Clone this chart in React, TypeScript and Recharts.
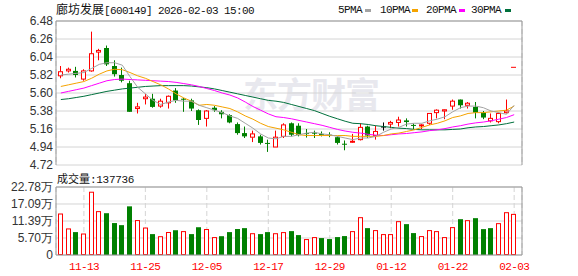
import { ComposedChart, Bar, Line, XAxis, YAxis, CartesianGrid, ReferenceLine } from 'recharts';

// trading days shown, 11-10 .. 02-03
const dates = [
  '11-10', '11-11', '11-12', '11-13', '11-14', '11-17', '11-18', '11-19', '11-20', '11-21',
  '11-24', '11-25', '11-26', '11-27', '11-28', '12-01', '12-02', '12-03', '12-04', '12-05',
  '12-08', '12-09', '12-10', '12-11', '12-12', '12-15', '12-16', '12-17', '12-18', '12-19',
  '12-22', '12-23', '12-24', '12-25', '12-26', '12-29', '12-30', '12-31', '01-05', '01-06',
  '01-07', '01-08', '01-09', '01-12', '01-13', '01-14', '01-15', '01-16', '01-19', '01-20',
  '01-21', '01-22', '01-23', '01-26', '01-27', '01-28', '01-29', '01-30', '02-02', '02-03',
];

const open = [
  5.81, 5.87, 5.87, 5.77, 5.87, 6.10, 6.15, 5.93, 5.82, 5.72,
  5.41, 5.53, 5.53, 5.44, 5.48, 5.63, 5.53, 5.51, 5.39, 5.29,
  5.42, 5.37, 5.33, 5.22, 5.11, 5.06, 5.07, 4.99, 4.94, 5.07,
  5.23, 5.20, 5.11, 5.115, 5.10, 5.09, 5.06, 4.98, 5.00, 5.03,
  5.19, 5.08, 5.19, 5.22, 5.24, 5.265, 5.21, 5.20, 5.23, 5.36,
  5.38, 5.44, 5.52, 5.45, 5.43, 5.36, 5.26, 5.25, 5.36, 5.92,
];
const high = [
  5.93, 5.91, 5.92, 5.89, 6.35, 6.14, 6.18, 6.00, 5.91, 5.75,
  5.48, 5.59, 5.59, 5.53, 5.57, 5.66, 5.54, 5.53, 5.40, 5.39,
  5.44, 5.39, 5.34, 5.24, 5.19, 5.14, 5.09, 5.03, 5.14, 5.23,
  5.24, 5.23, 5.16, 5.14, 5.13, 5.12, 5.07, 5.02, 5.10, 5.23,
  5.20, 5.20, 5.24, 5.26, 5.31, 5.29, 5.23, 5.22, 5.35, 5.40,
  5.40, 5.52, 5.52, 5.49, 5.49, 5.38, 5.35, 5.36, 5.52, 5.92,
];
const low = [
  5.78, 5.85, 5.79, 5.75, 5.86, 6.00, 5.93, 5.80, 5.73, 5.37,
  5.35, 5.46, 5.42, 5.42, 5.41, 5.48, 5.37, 5.38, 5.21, 5.19,
  5.37, 5.29, 5.23, 5.09, 5.05, 5.00, 4.97, 4.88, 4.94, 5.05,
  5.07, 5.07, 5.055, 5.05, 5.07, 5.06, 4.97, 4.90, 4.99, 5.02,
  5.05, 5.03, 5.14, 5.17, 5.19, 5.19, 5.16, 5.16, 5.21, 5.29,
  5.28, 5.395, 5.41, 5.41, 5.29, 5.28, 5.24, 5.23, 5.35, 5.92,
];
const close = [
  5.86, 5.89, 5.82, 5.87, 6.08, 6.12, 5.95, 5.83, 5.75, 5.37,
  5.43, 5.55, 5.43, 5.50, 5.56, 5.51, 5.52, 5.41, 5.27, 5.38,
  5.39, 5.34, 5.24, 5.11, 5.07, 5.10, 4.99, 4.98, 5.06, 5.21,
  5.09, 5.085, 5.10, 5.105, 5.09, 5.08, 4.99, 4.97, 5.01, 5.18,
  5.08, 5.13, 5.19, 5.24, 5.27, 5.245, 5.20, 5.21, 5.35, 5.39,
  5.395, 5.50, 5.45, 5.475, 5.36, 5.30, 5.29, 5.35, 5.38, 5.92,
];

const ma5 = [
  5.82, 5.83, 5.84, 5.85, 5.90, 5.95, 5.97, 5.97, 5.94, 5.80,
  5.67, 5.59, 5.51, 5.46, 5.49, 5.51, 5.50, 5.50, 5.45, 5.42,
  5.39, 5.36, 5.32, 5.29, 5.23, 5.17, 5.10, 5.05, 5.04, 5.07,
  5.07, 5.09, 5.11, 5.12, 5.10, 5.09, 5.07, 5.05, 5.03, 5.05,
  5.05, 5.07, 5.12, 5.16, 5.18, 5.22, 5.23, 5.23, 5.26, 5.28,
  5.31, 5.37, 5.42, 5.44, 5.44, 5.42, 5.38, 5.36, 5.34, 5.45,
];
const ma10 = [
  5.68, 5.70, 5.72, 5.74, 5.78, 5.83, 5.87, 5.89, 5.885, 5.85,
  5.81, 5.78, 5.74, 5.70, 5.65, 5.59, 5.54, 5.50, 5.45, 5.46,
  5.45, 5.43, 5.41, 5.37, 5.32, 5.28, 5.23, 5.19, 5.17, 5.15,
  5.12, 5.09, 5.08, 5.08, 5.08, 5.08, 5.08, 5.08, 5.07, 5.07,
  5.07, 5.07, 5.08, 5.10, 5.11, 5.13, 5.15, 5.18, 5.21, 5.23,
  5.26, 5.30, 5.32, 5.35, 5.36, 5.36, 5.37, 5.38, 5.39, 5.44,
];
const ma20 = [
  5.60, 5.62, 5.64, 5.66, 5.69, 5.72, 5.75, 5.765, 5.77, 5.765,
  5.76, 5.755, 5.75, 5.745, 5.74, 5.73, 5.715, 5.70, 5.68, 5.655,
  5.63, 5.60, 5.575, 5.54, 5.49, 5.435, 5.39, 5.345, 5.31, 5.30,
  5.285, 5.265, 5.245, 5.225, 5.205, 5.18, 5.155, 5.135, 5.12, 5.11,
  5.095, 5.085, 5.08, 5.09, 5.10, 5.105, 5.115, 5.125, 5.14, 5.15,
  5.165, 5.185, 5.20, 5.22, 5.235, 5.245, 5.26, 5.28, 5.30, 5.335,
];
const ma30 = [
  5.52, 5.53, 5.545, 5.56, 5.58, 5.60, 5.62, 5.635, 5.65, 5.66,
  5.67, 5.68, 5.685, 5.69, 5.69, 5.69, 5.69, 5.685, 5.675, 5.665,
  5.65, 5.63, 5.61, 5.59, 5.57, 5.55, 5.53, 5.51, 5.50, 5.485,
  5.46, 5.435, 5.41, 5.385, 5.35, 5.315, 5.285, 5.255, 5.23, 5.225,
  5.215, 5.20, 5.19, 5.18, 5.17, 5.165, 5.155, 5.15, 5.15, 5.15,
  5.15, 5.155, 5.16, 5.175, 5.185, 5.19, 5.20, 5.21, 5.225, 5.245,
];

// volume in 万手
const volume = [
  13.9, 8.9, 7.67, 7.2, 21.2, 14.7, 14.0, 10.7, 10.0, 16.3,
  11.7, 9.2, 7.0, 6.3, 7.7, 8.3, 8.0, 7.0, 9.3, 8.7,
  6.0, 6.3, 7.67, 8.7, 9.0, 7.3, 7.0, 7.67, 7.3, 7.67,
  8.0, 6.67, 5.34, 6.0, 5.67, 5.34, 6.0, 6.34, 8.0, 12.67,
  9.0, 8.34, 7.0, 7.0, 11.34, 10.34, 7.34, 6.34, 8.34, 8.0,
  6.0, 9.34, 12.0, 11.67, 12.34, 8.67, 9.0, 10.67, 14.34, 13.7736,
];

const priceTicks = [4.72, 4.94, 5.16, 5.38, 5.6, 5.82, 6.04, 6.26, 6.48];
const volTicks = [0, 5.7, 11.39, 17.09, 22.78];
const dateTicks = ['11-13', '11-25', '12-05', '12-17', '12-29', '01-12', '01-22', '02-03'];

const RED = '#ff0000';
const GREEN = '#008000';
const GRID = '#d4d4d4';
const BORDER = '#999';
const MONO = "'Liberation Mono', monospace";
const CJK = "'Noto Sans CJK SC', sans-serif";

const rows = dates.map((date, i) => ({
  date,
  o: open[i],
  h: high[i],
  l: low[i],
  c: close[i],
  prev: i > 0 ? close[i - 1] : open[i],
  range: [low[i], high[i]],
  ma5: ma5[i],
  ma10: ma10[i],
  ma20: ma20[i],
  ma30: ma30[i],
  vol: volume[i],
}));

function Candle(props: any) {
  const { x, y, height, payload } = props;
  const { o, h, l, c, prev } = payload;
  const px = (p: number) => (h === l ? y : y + ((h - p) / (h - l)) * height);
  const left = Math.round(x);
  const mid = left + 2.5;
  let color = c > o ? RED : c < o ? GREEN : '#000';
  if (h === l) color = c >= prev ? RED : GREEN;
  const top = px(Math.max(o, c));
  const bot = px(Math.min(o, c));
  if (c === o) {
    return (
      <g>
        {h !== l && <line x1={mid} x2={mid} y1={px(h)} y2={px(l)} stroke={color} />}
        <line x1={left} x2={left + 5} y1={top + 0.5} y2={top + 0.5} stroke={color} />
      </g>
    );
  }
  if (c > o) {
    return (
      <g>
        <line x1={mid} x2={mid} y1={px(h)} y2={top} stroke={color} />
        <line x1={mid} x2={mid} y1={bot} y2={px(l)} stroke={color} />
        <rect x={left + 0.5} y={top} width={4} height={Math.max(bot - top, 1)} fill="#fff" stroke={color} />
      </g>
    );
  }
  return (
    <g>
      <line x1={mid} x2={mid} y1={px(h)} y2={px(l)} stroke={color} />
      <rect x={left} y={top} width={5} height={Math.max(bot - top, 1)} fill={color} />
    </g>
  );
}

function VolBar(props: any) {
  const { x, y, height, payload } = props;
  const left = Math.round(x);
  if (payload.c >= payload.prev) {
    return <rect x={left + 0.5} y={y + 0.5} width={4} height={Math.max(height - 1, 0)} fill="#fff" stroke={RED} />;
  }
  return <rect x={left} y={y} width={5} height={height} fill={GREEN} />;
}

const tickStyle = { fontSize: 12, fill: '#333', fontFamily: "'Liberation Sans', Arial, sans-serif" };

const legend = [
  { name: '5PMA', color: '#a3a3a3', x: 338, mx: 365 },
  { name: '10PMA', color: '#f5a300', x: 380, mx: 412 },
  { name: '20PMA', color: '#ff00ff', x: 426, mx: 459 },
  { name: '30PMA', color: '#00703c', x: 471, mx: 505 },
];

export default function App() {
  const last = rows[rows.length - 1];
  return (
    <div style={{ position: 'absolute', left: 0, top: 0, width: 578, height: 276, background: '#fff' }}>
      {/* watermark */}
      <svg width={578} height={276} style={{ position: 'absolute', left: 0, top: 0 }}>
        <text x={243} y={108} fontSize={35} fontWeight="bold" fontFamily={CJK} fill="#e8e8ee" letterSpacing={-1}>
          东方财富
        </text>
      </svg>

      <div style={{ position: 'absolute', left: 0, top: 170 }}>
        <ComposedChart width={578} height={106} data={rows} margin={{ top: 17, right: 0, bottom: 0, left: 0 }}>
          <CartesianGrid vertical={false} stroke={GRID} />
          <CartesianGrid horizontal={false} stroke={GRID} strokeDasharray="5 3" />
          <XAxis
            dataKey="date"
            ticks={dateTicks}
            height={21}
            tickLine={false}
            tickMargin={1}
            axisLine={{ stroke: BORDER }}
            interval={0}
            padding={{ left: 1, right: 4 }}
            tick={{ fontSize: 11, fill: RED, fontFamily: MONO, letterSpacing: -0.6 }}
          />
          <YAxis
            domain={[0, 22.78]}
            ticks={volTicks}
            interval={0}
            width={56}
            tickSize={0}
            tickMargin={3}
            tickLine={false}
            axisLine={{ stroke: BORDER }}
            tick={tickStyle}
            tickFormatter={(v: number) => (v === 0 ? '0' : v.toFixed(2) + '万')}
          />
          <YAxis yAxisId="r" orientation="right" width={56} tick={false} tickLine={false} axisLine={{ stroke: BORDER }} />
          <ReferenceLine y={22.78} stroke={BORDER} />
          <Bar dataKey="vol" barSize={5} shape={VolBar} isAnimationActive={false} />
        </ComposedChart>
      </div>

      <div style={{ position: 'absolute', left: 0, top: 0 }}>
        <ComposedChart width={578} height={176} data={rows} margin={{ top: 21, right: 0, bottom: 11, left: 0 }}>
          <CartesianGrid vertical={false} stroke={GRID} />
          <CartesianGrid horizontal={false} stroke={GRID} strokeDasharray="5 3" />
          <XAxis
            dataKey="date"
            ticks={dateTicks}
            height={0}
            tick={false}
            tickLine={false}
            axisLine={{ stroke: BORDER }}
            padding={{ left: 1, right: 4 }}
          />
          <YAxis
            domain={[4.72, 6.48]}
            ticks={priceTicks}
            interval={0}
            width={56}
            tickSize={0}
            tickMargin={3}
            tickLine={false}
            axisLine={{ stroke: BORDER }}
            tick={tickStyle}
            tickFormatter={(v: number) => v.toFixed(2)}
          />
          <YAxis yAxisId="r" orientation="right" width={56} tick={false} tickLine={false} axisLine={{ stroke: BORDER }} />
          <ReferenceLine y={6.48} stroke={BORDER} />
          <Bar dataKey="range" barSize={5} shape={Candle} isAnimationActive={false} />
          <Line dataKey="ma30" stroke="#00703c" strokeWidth={1} dot={false} activeDot={false} isAnimationActive={false} />
          <Line dataKey="ma20" stroke="#ff00ff" strokeWidth={1} dot={false} activeDot={false} isAnimationActive={false} />
          <Line dataKey="ma10" stroke="#f5a300" strokeWidth={1} dot={false} activeDot={false} isAnimationActive={false} />
          <Line dataKey="ma5" stroke="#a3a3a3" strokeWidth={1} dot={false} activeDot={false} isAnimationActive={false} />
        </ComposedChart>
      </div>

      {/* title, legend and volume label */}
      <svg width={578} height={190} style={{ position: 'absolute', left: 0, top: 0, pointerEvents: 'none' }}>
        <text x={56} y={13.5} fill="#111">
          <tspan fontFamily={CJK} fontSize={12}>廊坊发展</tspan>
          <tspan fontFamily={MONO} fontSize={11} letterSpacing={-0.6}>[600149] 2026-02-03 15:00</tspan>
        </text>
        {legend.map((it) => (
          <g key={it.name}>
            <text x={it.x} y={12.5} fontFamily={MONO} fontSize={11} letterSpacing={-0.6} fill="#111">
              {it.name}
            </text>
            <rect x={it.mx} y={9} width={6} height={3} fill={it.color} />
          </g>
        ))}
        <text x={57} y={183} fill="#111">
          <tspan fontFamily={CJK} fontSize={11}>成交量</tspan>
          <tspan fontFamily={MONO} fontSize={11} letterSpacing={-0.3}>:{Math.round(last.vol * 10000)}</tspan>
        </text>
      </svg>
    </div>
  );
}
